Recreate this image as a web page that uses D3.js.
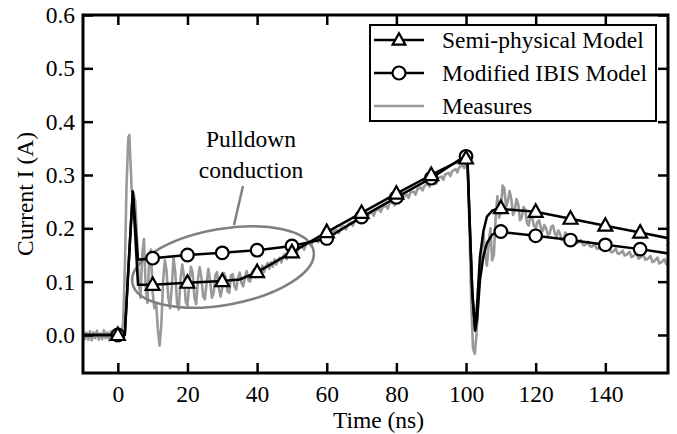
<!DOCTYPE html>
<html>
<head>
<meta charset="utf-8">
<script src="https://cdn.jsdelivr.net/npm/d3@7"></script>
<style>
  html, body { margin: 0; padding: 0; background: #fff; }
  svg { display: block; }
  text { font-family: "Liberation Serif", "DejaVu Serif", serif; fill: #000; }
</style>
</head>
<body>
<svg id="chart" width="677" height="434"></svg>
<script>
// ---------------- DATA ----------------
const xTicks = [0, 20, 40, 60, 80, 100, 120, 140];
const yTicks = [0.0, 0.1, 0.2, 0.3, 0.4, 0.5, 0.6];

const seriesNames = ["Semi-physical Model", "Modified IBIS Model", "Measures"];

// Semi-physical model curve (time ns, current A)
const semiTime = [-10, 0, 2, 3, 4.3, 5.8, 10, 20, 30, 35, 40, 50, 60, 70, 80, 90, 99.8, 100.4, 101, 101.8, 102.6, 103.2, 104, 105, 106, 107.5, 109, 120, 130, 140, 150, 160];
const semiCurrent = [0, 0, 0, 0.12, 0.269, 0.094, 0.094, 0.098, 0.101, 0.104, 0.118, 0.155, 0.193, 0.229, 0.265, 0.300, 0.332, 0.33, 0.22, 0.08, 0.01, 0.06, 0.147, 0.195, 0.222, 0.233, 0.237, 0.231, 0.218, 0.205, 0.192, 0.179];

// Modified IBIS model curve
const ibisTime = [-10, 0, 2, 3, 4.3, 5.8, 10, 20, 30, 40, 50, 60, 70, 80, 90, 99.8, 100.4, 101, 101.8, 102.6, 103.2, 104, 105, 106, 107.5, 109, 120, 130, 140, 150, 160];
const ibisCurrent = [0, 0, 0, 0.12, 0.269, 0.141, 0.144, 0.150, 0.154, 0.159, 0.167, 0.181, 0.221, 0.258, 0.294, 0.336, 0.33, 0.22, 0.08, 0.008, 0.03, 0.103, 0.148, 0.172, 0.188, 0.194, 0.186, 0.178, 0.169, 0.161, 0.151];

// Marker positions (every 10 ns)
const markerTime = [0, 10, 20, 30, 40, 50, 60, 70, 80, 90, 100, 110, 120, 130, 140, 150, 160];
const semiMarkers = [0, 0.094, 0.098, 0.101, 0.118, 0.155, 0.193, 0.229, 0.265, 0.300, 0.331, 0.238, 0.231, 0.218, 0.205, 0.192, 0.179];
const ibisMarkers = [0, 0.144, 0.150, 0.154, 0.159, 0.167, 0.181, 0.221, 0.258, 0.294, 0.335, 0.194, 0.186, 0.178, 0.169, 0.161, 0.151];

// Measured current
const measTime = [
  -10, -9.5, -9, -8.5, -8, -7.5, -7, -6.5, -6, -5.5, -5, -4.5, -4, -3.5, -3, -2.5, -2, -1.5, -1, -0.5,
  0, 0.5, 1, 1.5, 2, 2.5, 3, 3.3, 3.6, 4, 4.5, 5, 5.5, 6, 6.5, 7, 7.5, 8, 8.5, 9, 9.5, 10,
  10.5, 11, 11.5, 12, 12.5, 13, 13.5, 14, 14.5, 15, 15.5, 16, 16.5, 17, 17.5, 18, 18.5, 19, 19.5, 20,
  20.5, 21, 21.5, 22, 22.5, 23, 23.5, 24, 24.5, 25, 25.5, 26, 26.5, 27, 27.5, 28, 28.5, 29, 29.5, 30,
  30.5, 31, 31.5, 32, 32.5, 33, 33.5, 34, 34.5, 35, 35.5, 36, 36.5, 37, 37.5, 38, 38.5, 39, 39.5, 40,
  40.5, 41, 41.5, 42, 42.5, 43, 43.5, 44, 44.5, 45, 45.5, 46, 46.5, 47, 47.5, 48, 48.5, 49, 49.5, 50,
  51, 51.5, 52, 53, 53.5, 54, 55, 55.5, 56, 57, 57.5, 58, 59, 59.5, 60, 61, 61.5, 62, 63, 63.5, 64, 65, 65.5, 66, 67, 67.5, 68, 69, 69.5, 70,
  71, 71.5, 72, 73, 73.5, 74, 75, 75.5, 76, 77, 77.5, 78, 79, 79.5, 80, 81, 81.5, 82, 83, 83.5, 84, 85, 85.5, 86, 87, 87.5, 88, 89, 89.5, 90,
  91, 91.5, 92, 93, 93.5, 94, 95, 95.5, 96, 97, 97.5, 98, 99, 99.5, 100, 100.5, 101, 101.5, 102, 102.5, 103, 103.5, 104, 104.5, 105,
  105.5, 106, 106.5, 107, 107.5, 108, 108.5, 109, 109.5, 110, 110.5, 111, 111.5, 112, 112.5, 113, 113.5, 114, 114.5, 115,
  115.5, 116, 116.5, 117, 117.5, 118, 118.5, 119, 119.5, 120, 120.5, 121, 121.5, 122, 122.5, 123, 123.5, 124, 124.5, 125,
  125.5, 126, 126.5, 127, 127.5, 128, 128.5, 129, 129.5, 130, 131, 131.5, 132, 133, 133.5, 134, 135, 135.5, 136, 137, 137.5, 138, 139, 139.5, 140,
  141, 141.5, 142, 143, 143.5, 144, 145, 145.5, 146, 147, 147.5, 148, 149, 149.5, 150,
  151, 151.5, 152, 153, 153.5, 154, 155, 155.5, 156, 157, 157.5, 158
];
const measCurrent = [
  0.006, -0.008, 0.004, -0.009, 0.007, -0.01, 0.005, -0.006, 0.008, -0.009, 0.003, -0.008, 0.009, -0.006, 0.005, -0.01, 0.007, -0.004, 0.008, -0.008,
  0.004, -0.006, 0.006, 0.02, 0.12, 0.28, 0.37, 0.375, 0.33, 0.27, 0.265, 0.25, 0.18, 0.10, 0.07, 0.15, 0.18, 0.09, 0.06, 0.14, 0.16, 0.08,
  0.05, 0.06, 0.01, -0.02, 0.02, 0.10, 0.14, 0.12, 0.07, 0.05, 0.09, 0.145, 0.118, 0.06, 0.048, 0.105, 0.132, 0.11, 0.062, 0.055,
  0.095, 0.128, 0.116, 0.07, 0.058, 0.104, 0.127, 0.108, 0.072, 0.067, 0.098, 0.124, 0.102, 0.07, 0.078, 0.112, 0.118, 0.088, 0.072, 0.088,
  0.116, 0.108, 0.082, 0.079, 0.112, 0.114, 0.092, 0.085, 0.106, 0.117, 0.098, 0.091, 0.108, 0.12, 0.103, 0.1, 0.117, 0.123, 0.108, 0.112,
  0.125, 0.115, 0.13, 0.118, 0.128, 0.135, 0.124, 0.136, 0.128, 0.142, 0.132, 0.14, 0.145, 0.136, 0.148, 0.152, 0.142, 0.154, 0.146, 0.155,
  0.161, 0.155, 0.164, 0.166, 0.16, 0.171, 0.173, 0.167, 0.177, 0.179, 0.174, 0.183, 0.186, 0.18, 0.188, 0.191, 0.186, 0.195, 0.197, 0.191, 0.201, 0.204, 0.198, 0.207, 0.211, 0.205, 0.214, 0.217, 0.211, 0.22,
  0.223, 0.217, 0.227, 0.23, 0.224, 0.233, 0.237, 0.231, 0.239, 0.243, 0.237, 0.247, 0.249, 0.243, 0.253, 0.257, 0.251, 0.259, 0.263, 0.257, 0.267, 0.269, 0.263, 0.273, 0.277, 0.271, 0.279, 0.284, 0.278, 0.287,
  0.29, 0.284, 0.294, 0.297, 0.291, 0.301, 0.304, 0.298, 0.307, 0.311, 0.305, 0.314, 0.319, 0.313, 0.323, 0.31, 0.2, 0.06, -0.025, -0.035, 0.0, 0.07, 0.13, 0.16, 0.19,
  0.15, 0.13, 0.17, 0.2, 0.14, 0.15, 0.22, 0.26, 0.22, 0.23, 0.28, 0.275, 0.24, 0.25, 0.27, 0.255, 0.225, 0.235, 0.255, 0.245,
  0.215, 0.22, 0.24, 0.235, 0.21, 0.205, 0.225, 0.22, 0.205, 0.2, 0.212, 0.215, 0.2, 0.195, 0.206, 0.2, 0.188, 0.19, 0.203, 0.205,
  0.19, 0.185, 0.196, 0.19, 0.178, 0.18, 0.192, 0.188, 0.176, 0.175, 0.182, 0.174, 0.172, 0.178, 0.17, 0.168, 0.175, 0.167, 0.165, 0.17, 0.162, 0.162, 0.168, 0.158, 0.16,
  0.165, 0.156, 0.155, 0.162, 0.153, 0.152, 0.158, 0.149, 0.15, 0.156, 0.146, 0.148, 0.153, 0.143, 0.145,
  0.15, 0.141, 0.142, 0.148, 0.137, 0.138, 0.145, 0.134, 0.136, 0.142, 0.133, 0.138
];

const annotationLines = ["Pulldown", "conduction"];

// ---------------- CHART ----------------
const svg = d3.select("#chart");
const L = 83, R = 668, T = 15, B = 373;
const FONT = 23.5;
const FAMILY = "'Liberation Serif', 'DejaVu Serif', serif";

const x = d3.scaleLinear().domain([-10, 158]).range([L, R]);
const y = d3.scaleLinear().domain([-0.0713, 0.6]).range([B, T]);

svg.append("defs").append("clipPath").attr("id", "plotClip")
  .append("rect").attr("x", L).attr("y", T).attr("width", R - L).attr("height", B - T);

const plot = svg.append("g").attr("clip-path", "url(#plotClip)");

const line = d3.line().x(d => x(d[0])).y(d => y(d[1]));

// Measures
plot.append("path")
  .datum(measTime.map((t, i) => [t, measCurrent[i]]))
  .attr("d", line)
  .attr("fill", "none")
  .attr("stroke", "#999")
  .attr("stroke-width", 2.6)
  .attr("stroke-linejoin", "round");

// Annotation ellipse
const ex = 223, ey = 267;
plot.append("ellipse")
  .attr("cx", ex).attr("cy", ey).attr("rx", 92).attr("ry", 38)
  .attr("transform", `rotate(-10, ${ex}, ${ey})`)
  .attr("fill", "none").attr("stroke", "#808080").attr("stroke-width", 2.5);

svg.append("line")
  .attr("x1", 243).attr("y1", 186).attr("x2", 234).attr("y2", 225)
  .attr("stroke", "#808080").attr("stroke-width", 2.5);

svg.selectAll("text.annot").data(annotationLines).enter().append("text")
  .attr("class", "annot")
  .attr("x", 251).attr("y", (d, i) => 147 + i * 31)
  .attr("text-anchor", "middle")
  .attr("font-family", FAMILY)
  .attr("font-size", FONT)
  .text(d => d);

// Model lines
const modelStyle = sel => sel.attr("fill", "none").attr("stroke", "#000").attr("stroke-width", 2.5).attr("stroke-linejoin", "round");
plot.append("path").datum(ibisTime.map((t, i) => [t, ibisCurrent[i]])).attr("d", line).call(modelStyle);
plot.append("path").datum(semiTime.map((t, i) => [t, semiCurrent[i]])).attr("d", line).call(modelStyle);

const triPath = (cx, cy, s) => `M${cx},${cy - s * 0.62}L${cx + s * 0.58},${cy + s * 0.42}L${cx - s * 0.58},${cy + s * 0.42}Z`;

// Circle markers (IBIS)
plot.selectAll("circle.ibis").data(markerTime.map((t, i) => [t, ibisMarkers[i]])).enter()
  .append("circle").attr("class", "ibis")
  .attr("cx", d => x(d[0])).attr("cy", d => y(d[1])).attr("r", 6.3)
  .attr("fill", "#fff").attr("stroke", "#000").attr("stroke-width", 2.2);

// Triangle markers (semi-physical)
plot.selectAll("path.semi").data(markerTime.map((t, i) => [t, semiMarkers[i]])).enter()
  .append("path").attr("class", "semi")
  .attr("d", d => triPath(x(d[0]), y(d[1]), 12))
  .attr("fill", "#fff").attr("stroke", "#000").attr("stroke-width", 2.2).attr("stroke-linejoin", "miter");

// Axes (ticks inward on all sides)
const axB = svg.append("g").attr("transform", `translate(0,${B})`)
  .call(d3.axisBottom(x).tickValues(xTicks).tickFormat(d3.format("d")).tickSizeInner(-10).tickSizeOuter(0).tickPadding(12));
const axT = svg.append("g").attr("transform", `translate(0,${T})`)
  .call(d3.axisTop(x).tickValues(xTicks).tickFormat("").tickSizeInner(-10).tickSizeOuter(0));
const axL = svg.append("g").attr("transform", `translate(${L},0)`)
  .call(d3.axisLeft(y).tickValues(yTicks).tickFormat(d3.format(".1f")).tickSizeInner(-10).tickSizeOuter(0).tickPadding(8));
const axR = svg.append("g").attr("transform", `translate(${R},0)`)
  .call(d3.axisRight(y).tickValues(yTicks).tickFormat("").tickSizeInner(-10).tickSizeOuter(0));

[axB, axT, axL, axR].forEach(a => {
  a.attr("font-family", FAMILY).attr("font-size", FONT);
  a.select(".domain").remove();
  a.selectAll(".tick line").attr("stroke", "#000").attr("stroke-width", 2.5);
  a.selectAll(".tick text").attr("font-size", FONT).attr("font-family", FAMILY).attr("fill", "#000");
});

// Frame
svg.append("rect").attr("x", L).attr("y", T).attr("width", R - L).attr("height", B - T)
  .attr("fill", "none").attr("stroke", "#000").attr("stroke-width", 3);

// Axis titles
svg.append("text").attr("x", (L + R) / 2 + 3).attr("y", 428).attr("text-anchor", "middle")
  .attr("font-family", FAMILY).attr("font-size", FONT).text("Time (ns)");
svg.append("text").attr("transform", `translate(33,${(T + B) / 2}) rotate(-90)`).attr("text-anchor", "middle")
  .attr("font-family", FAMILY).attr("font-size", FONT).text("Current I (A)");

// Legend
const lg = svg.append("g");
lg.append("rect").attr("x", 370).attr("y", 25).attr("width", 286).attr("height", 96)
  .attr("fill", "#fff").attr("stroke", "#000").attr("stroke-width", 2);
const rowY = [40, 73, 106];
seriesNames.forEach((name, i) => {
  const yy = rowY[i];
  lg.append("line").attr("x1", 374).attr("x2", 424).attr("y1", yy).attr("y2", yy)
    .attr("stroke", i === 2 ? "#999" : "#000").attr("stroke-width", 2.5);
  if (i === 0) {
    lg.append("path").attr("d", triPath(399, yy, 11)).attr("fill", "#fff").attr("stroke", "#000").attr("stroke-width", 2.2);
  } else if (i === 1) {
    lg.append("circle").attr("cx", 399).attr("cy", yy).attr("r", 6.5).attr("fill", "#fff").attr("stroke", "#000").attr("stroke-width", 2.2);
  }
  lg.append("text").attr("x", 442).attr("y", yy + 7.5).attr("font-family", FAMILY).attr("font-size", FONT).text(name);
});
</script>
</body>
</html>
